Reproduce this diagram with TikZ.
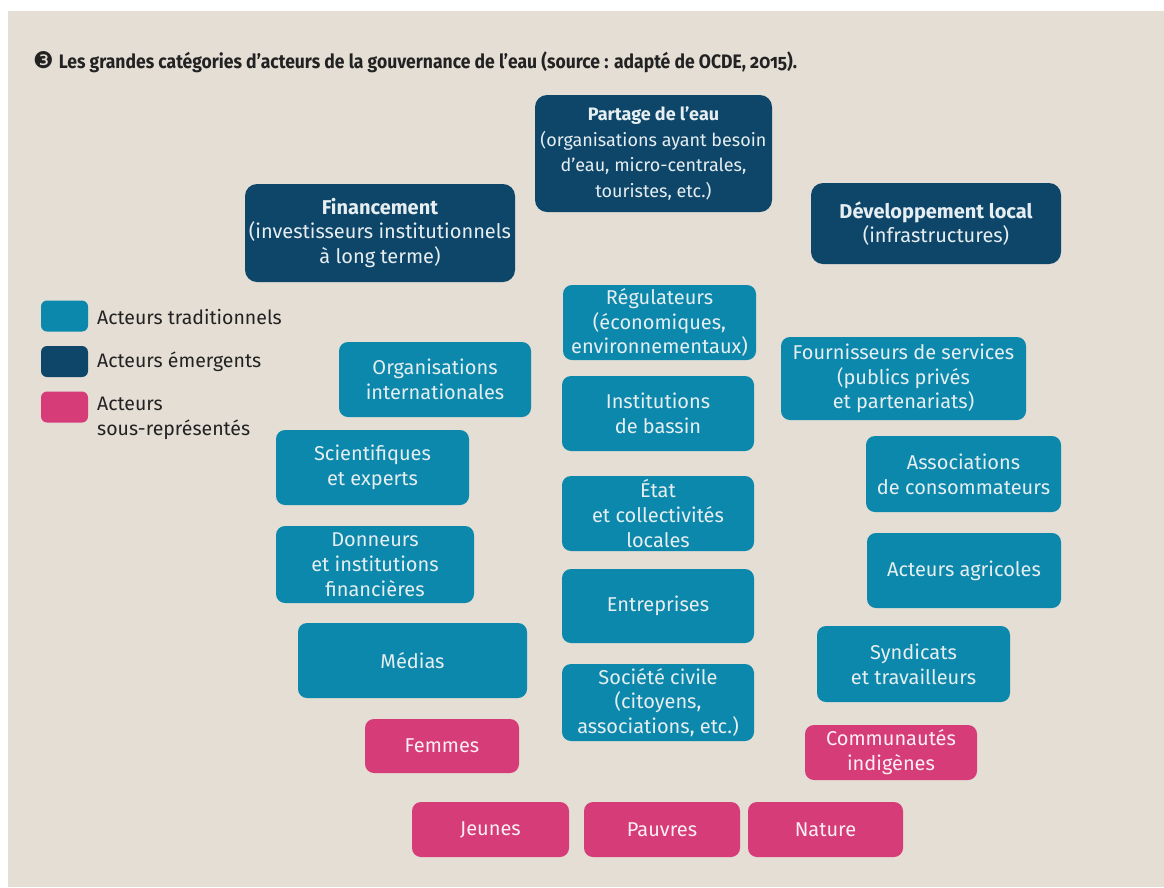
\documentclass[tikz,border=0pt]{standalone}
\usepackage{fontspec}
\setmainfont{Fira Sans}
\newfontfamily\titlefont[FakeStretch=0.9,Numbers=OldStyle]{Fira Sans}
\newfontfamily\symfont{DejaVu Sans}
\definecolor{bgc}{HTML}{E4DED5}
\definecolor{teal}{HTML}{0B88AB}
\definecolor{navy}{HTML}{0E4669}
\definecolor{pinkc}{HTML}{D63C78}
\definecolor{lighttext}{HTML}{E6EEF1}
\definecolor{darktext}{HTML}{222222}
\tikzset{
  box/.style={rounded corners=9pt, inner sep=0pt, align=center,
    font=\fontsize{20}{24.8}\selectfont, text=lighttext},
  trad/.style={box, fill=teal},
  emer/.style={box, fill=navy, rounded corners=12pt},
  under/.style={box, fill=pinkc, text=white!92!pinkc},
  legsq/.style={rounded corners=6pt, inner sep=0pt, minimum width=47pt, minimum height=31pt},
  legtxt/.style={anchor=west, align=left, inner sep=0pt, text=darktext,
    font=\fontsize{19.5}{25}\selectfont}
}
\newcommand{\bx}[7]{\node[#2, minimum width=#5pt, minimum height=#6pt] (#1) at (#3,#4) {#7};}
\begin{document}
\begin{tikzpicture}[x=1pt,y=-1pt]
\useasboundingbox (0,0) rectangle (1164,887);
\fill[white] (0,0) rectangle (1164,887);
\fill[bgc] (8,11) rectangle (1164,887);
% title
\node[anchor=west, inner sep=0pt, text=darktext] (title) at (33,62)
  {{\symfont\fontsize{23}{23}\selectfont ❸}\hspace{5pt}{\titlefont\bfseries\fontsize{19.5}{22}\selectfont Les grandes catégories d’acteurs de la gouvernance de l’eau (source~: adapté de OCDE, 2015).}};
% legend
\node[legsq, fill=teal] (lg1) at (64.5,316) {};
\node[legsq, fill=navy] (lg2) at (64.5,361.5) {};
\node[legsq, fill=pinkc] (lg3) at (64.5,407) {};
\node[legtxt] (lt1) at (97,317) {Acteurs traditionnels};
\node[legtxt] (lt2) at (97,362) {Acteurs émergents};
\node[legtxt] (lt3) at (97,418) {Acteurs\\sous-représentés};
% emerging
\bx{partage}{emer, font=\fontsize{18}{25.5}\selectfont}{653.5}{153.5}{237}{117}{\textbf{Partage de l’eau}\\(organisations ayant besoin\\d’eau, micro-centrales,\\touristes, etc.)}
\bx{financement}{emer}{380}{233}{270}{98}{\textbf{Financement}\\(investisseurs institutionnels\\à long terme)}
\bx{devlocal}{emer}{936}{223.5}{250}{81}{\textbf{Développement local}\\(infrastructures)}
% traditional
\bx{regul}{trad}{659.5}{322.5}{193}{75}{Régulateurs\\(économiques,\\environnementaux)}
\bx{orgint}{trad}{435}{379.5}{192}{75}{Organisations\\internationales}
\bx{fourn}{trad}{903.5}{378.5}{245}{83}{Fournisseurs de services\\(publics privés\\et partenariats)}
\bx{instbas}{trad}{658}{413.5}{192}{75}{Institutions\\de bassin}
\bx{scient}{trad}{372.5}{467.5}{193}{75}{Scientifiques\\et experts}
\bx{assoc}{trad}{963.5}{474}{195}{76}{Associations\\de consommateurs}
\bx{etat}{trad}{658}{513.5}{192}{75}{État\\et collectivités\\locales}
\bx{donneurs}{trad}{375}{564.5}{198}{77}{Donneurs\\et institutions\\financières}
\bx{agri}{trad}{964}{570.5}{194}{75}{Acteurs agricoles}
\bx{entr}{trad}{658}{606}{192}{74}{Entreprises}
\bx{medias}{trad}{412.5}{660.5}{229}{75}{Médias}
\bx{synd}{trad}{913.5}{664}{193}{76}{Syndicats\\et travailleurs}
\bx{societe}{trad}{658}{702.5}{192}{77}{Société civile\\(citoyens,\\associations, etc.)}
% under-represented
\bx{femmes}{under}{442}{746}{154}{54}{Femmes}
\bx{commun}{under}{891}{752.5}{172}{55}{Communautés\\indigènes}
\bx{jeunes}{under}{490.5}{829.5}{157}{55}{Jeunes}
\bx{pauvres}{under}{662}{829.5}{156}{55}{Pauvres}
\bx{nature}{under}{825.5}{829.5}{155}{55}{Nature}
\end{tikzpicture}
\end{document}
